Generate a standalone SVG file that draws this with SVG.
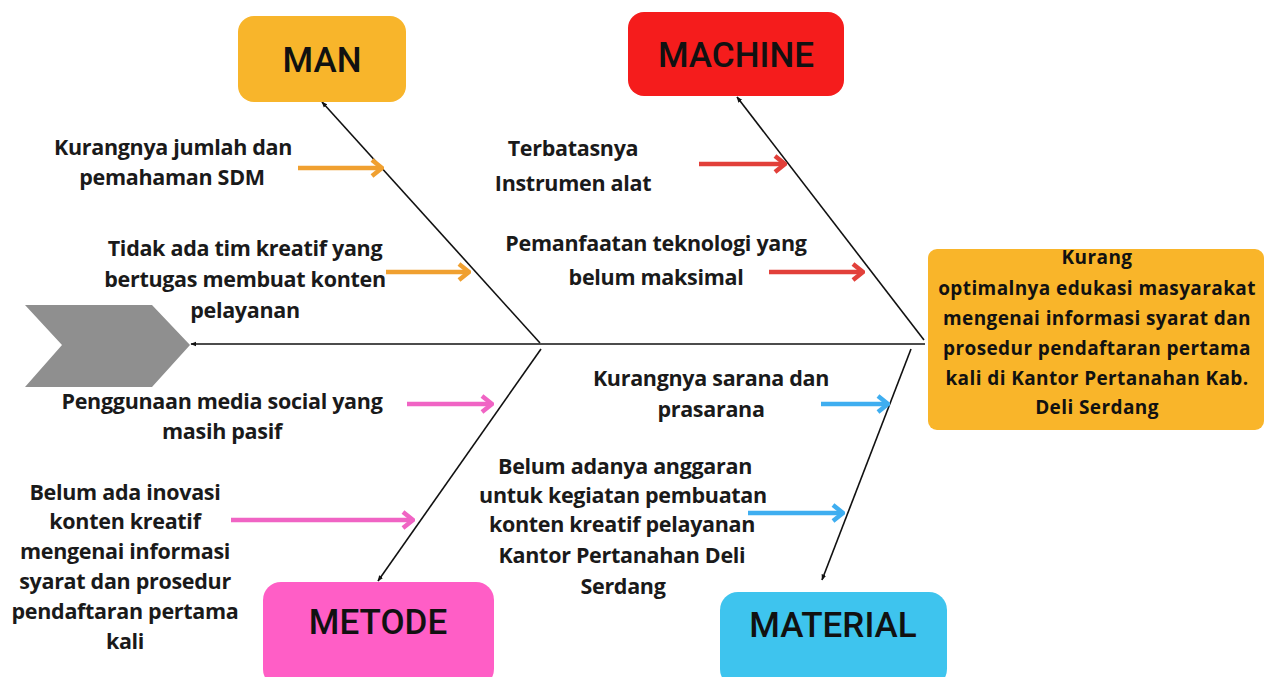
<svg xmlns="http://www.w3.org/2000/svg" width="1280" height="677" viewBox="0 0 1280 677">
<defs>
<style>
.lbl{font-family:"Open Sans","Liberation Sans",sans-serif;font-weight:700;font-size:21.5px;fill:#1a1a1a;text-anchor:middle;letter-spacing:-0.3px}
.cat{font-family:Roboto,"Liberation Sans",sans-serif;font-weight:500;font-size:35px;fill:#111;text-anchor:middle}
.eff{font-family:"Open Sans","Liberation Sans",sans-serif;font-weight:700;font-size:19px;fill:#111;text-anchor:middle;letter-spacing:0.4px}
.bone{stroke:#111;stroke-width:1.6;fill:none}
.sa{stroke-width:4.5;fill:none;stroke-linecap:butt}
</style>
<marker id="ah" viewBox="0 0 10 10" refX="9" refY="5" markerWidth="6" markerHeight="6" orient="auto-start-reverse" markerUnits="userSpaceOnUse">
<path d="M0,1 L10,5 L0,9 z" fill="#111"/>
</marker>
<marker id="mo" viewBox="0 0 20 20" refX="18" refY="10" markerWidth="20" markerHeight="20" orient="auto" markerUnits="userSpaceOnUse"><path d="M8,2 L18,10 L8,18" fill="none" stroke="#F0A030" stroke-width="4.5"/></marker>
<marker id="mr" viewBox="0 0 20 20" refX="18" refY="10" markerWidth="20" markerHeight="20" orient="auto" markerUnits="userSpaceOnUse"><path d="M8,2 L18,10 L8,18" fill="none" stroke="#E2403A" stroke-width="4.5"/></marker>
<marker id="mp" viewBox="0 0 20 20" refX="18" refY="10" markerWidth="20" markerHeight="20" orient="auto" markerUnits="userSpaceOnUse"><path d="M8,2 L18,10 L8,18" fill="none" stroke="#F064C4" stroke-width="4.5"/></marker>
<marker id="mb" viewBox="0 0 20 20" refX="18" refY="10" markerWidth="20" markerHeight="20" orient="auto" markerUnits="userSpaceOnUse"><path d="M8,2 L18,10 L8,18" fill="none" stroke="#3FAEF0" stroke-width="4.5"/></marker>
</defs>
<rect width="1280" height="677" fill="#fff"/>

<g id="head">
<polygon points="25,305 152,305 190,345 152,387 25,387 62,345" fill="#8F8F8F"/>
</g>

<g id="connectors">
<line class="bone" x1="925" y1="344" x2="191" y2="344" marker-end="url(#ah)"/>
<line class="bone" x1="540" y1="343" x2="322" y2="102" marker-end="url(#ah)"/>
<line class="bone" x1="924" y1="340" x2="737" y2="97" marker-end="url(#ah)"/>
<line class="bone" x1="541" y1="349" x2="378" y2="581" marker-end="url(#ah)"/>
<line class="bone" x1="911" y1="349" x2="822" y2="580" marker-end="url(#ah)"/>
<line class="sa" stroke="#F0A030" x1="298" y1="168" x2="382" y2="168" marker-end="url(#mo)"/>
<line class="sa" stroke="#F0A030" x1="386" y1="272" x2="469" y2="272" marker-end="url(#mo)"/>
<line class="sa" stroke="#E2403A" x1="699" y1="164" x2="785" y2="164" marker-end="url(#mr)"/>
<line class="sa" stroke="#E2403A" x1="769" y1="272" x2="863" y2="272" marker-end="url(#mr)"/>
<line class="sa" stroke="#F064C4" x1="407" y1="404" x2="492" y2="404" marker-end="url(#mp)"/>
<line class="sa" stroke="#F064C4" x1="231" y1="520" x2="413" y2="520" marker-end="url(#mp)"/>
<line class="sa" stroke="#3FAEF0" x1="821" y1="404" x2="888" y2="404" marker-end="url(#mb)"/>
<line class="sa" stroke="#3FAEF0" x1="748" y1="513" x2="843" y2="513" marker-end="url(#mb)"/>
</g>

<g id="man">
<rect x="238" y="16" width="168" height="86" rx="16" fill="#F8B52B"/>
<text class="cat" x="322" y="72">MAN</text>
</g>
<g id="machine">
<rect x="628" y="12" width="216" height="84" rx="16" fill="#F51C1C"/>
<text class="cat" x="736" y="67">MACHINE</text>
</g>
<g id="metode">
<rect x="263" y="582" width="231" height="105" rx="18" fill="#FF5EC6"/>
<text class="cat" x="378" y="634">METODE</text>
</g>
<g id="material">
<rect x="720" y="592" width="227" height="95" rx="18" fill="#3EC4EE"/>
<text class="cat" x="833" y="637">MATERIAL</text>
</g>

<g id="effect">
<rect x="928" y="249" width="336" height="181" rx="9" fill="#F9B52A"/>
<text class="eff" x="1097" y="264">Kurang</text>
<text class="eff" x="1097" y="295">optimalnya edukasi masyarakat</text>
<text class="eff" x="1097" y="325">mengenai informasi syarat dan</text>
<text class="eff" x="1097" y="355">prosedur pendaftaran pertama</text>
<text class="eff" x="1097" y="385">kali di Kantor Pertanahan Kab.</text>
<text class="eff" x="1097" y="414">Deli Serdang</text>
</g>

<g id="man-causes">
<text class="lbl" x="173" y="155">Kurangnya jumlah dan</text>
<text class="lbl" x="172" y="185">pemahaman SDM</text>
<text class="lbl" x="245" y="256">Tidak ada tim kreatif yang</text>
<text class="lbl" x="245" y="287">bertugas membuat konten</text>
<text class="lbl" x="245" y="318">pelayanan</text>
</g>
<g id="machine-causes">
<text class="lbl" x="573" y="156">Terbatasnya</text>
<text class="lbl" x="573" y="191">Instrumen alat</text>
<text class="lbl" x="656" y="251">Pemanfaatan teknologi yang</text>
<text class="lbl" x="656" y="285">belum maksimal</text>
</g>
<g id="metode-causes">
<text class="lbl" x="222" y="409">Penggunaan media social yang</text>
<text class="lbl" x="222" y="439">masih pasif</text>
<text class="lbl" x="125" y="500">Belum ada inovasi</text>
<text class="lbl" x="125" y="529">konten kreatif</text>
<text class="lbl" x="125" y="559">mengenai informasi</text>
<text class="lbl" x="125" y="589">syarat dan prosedur</text>
<text class="lbl" x="125" y="619">pendaftaran pertama</text>
<text class="lbl" x="125" y="649">kali</text>
</g>
<g id="material-causes">
<text class="lbl" x="711" y="386">Kurangnya sarana dan</text>
<text class="lbl" x="711" y="417">prasarana</text>
<text class="lbl" x="625" y="474">Belum adanya anggaran</text>
<text class="lbl" x="623" y="503">untuk kegiatan pembuatan</text>
<text class="lbl" x="622" y="532">konten kreatif pelayanan</text>
<text class="lbl" x="622" y="563">Kantor Pertanahan Deli</text>
<text class="lbl" x="623" y="594">Serdang</text>
</g>
</svg>
